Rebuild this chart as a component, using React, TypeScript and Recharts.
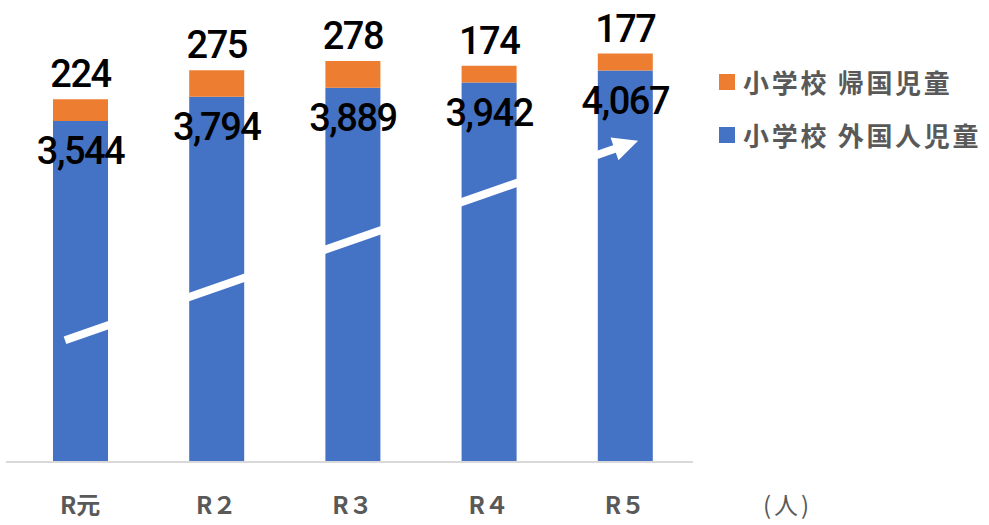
import { BarChart, Bar, XAxis, YAxis, Legend, LabelList, ReferenceLine } from 'recharts';

const categories = ['R元', 'R２', 'R３', 'R４', 'R５'];
const foreignKids = [3544, 3794, 3889, 3942, 4067];
const returneeKids = [224, 275, 278, 174, 177];

// trend arrow drawn over the bars (start / end value)
const trendStart = 1320;
const trendEnd = 3290;

const data = categories.map((name, i) => ({
  name,
  foreign: foreignKids[i],
  returnee: returneeKids[i],
}));

const BLUE = '#4472C4';
const ORANGE = '#ED7D31';
const GRAY = '#595959';
const numFont = 'Roboto, "Liberation Sans", Arial, sans-serif';
const jpFont = '"Noto Sans CJK JP", sans-serif';

const TopLabel = (props: any) => {
  const { x, y, width, value } = props;
  return (
    <text x={x + width / 2} y={y - 12} textAnchor="middle" fontFamily={numFont} fontWeight={500} fontSize={38} letterSpacing={-1.5} fill="#000">
      {value}
    </text>
  );
};

const InnerLabel = (props: any) => {
  const { x, y, width, value } = props;
  return (
    <text x={x + width / 2} y={y + 43} textAnchor="middle" fontFamily={numFont} fontWeight={500} fontSize={38} letterSpacing={-1.5} fill="#000">
      {Number(value).toLocaleString('en-US')}
    </text>
  );
};

const Tick = (props: any) => {
  const { x, payload } = props;
  return (
    <text x={x} y={514} textAnchor="middle" fontFamily={jpFont} fontWeight="bold" fontSize={24} fill={GRAY}>
      {payload.value}
    </text>
  );
};

const Arrow = (props: any) => {
  const { x1, y1, x2, y2 } = props;
  const len = Math.hypot(x2 - x1, y2 - y1);
  const ux = (x2 - x1) / len;
  const uy = (y2 - y1) / len;
  const sx = x1 - ux * 16;
  const sy = y1 - uy * 16;
  const tx = x2 + ux * 14;
  const ty = y2 + uy * 14;
  const bx = tx - ux * 25;
  const by = ty - uy * 25;
  const px = -uy;
  const py = ux;
  return (
    <g>
      <line x1={sx} y1={sy} x2={bx + ux * 2} y2={by + uy * 2} stroke="#fff" strokeWidth={8} />
      <polygon
        points={`${tx},${ty} ${bx + px * 12},${by + py * 12} ${bx - px * 12},${by - py * 12}`}
        fill="#fff"
      />
    </g>
  );
};

const LegendBox = () => (
  <div style={{ fontFamily: jpFont, fontWeight: 'bold', fontSize: 26, color: GRAY, letterSpacing: 2.7 }}>
    {[
      { color: ORANGE, text: '小学校 帰国児童' },
      { color: BLUE, text: '小学校 外国人児童' },
    ].map((r) => (
      <div key={r.text} style={{ display: 'flex', alignItems: 'center', height: 53, whiteSpace: 'nowrap' }}>
        <span style={{ display: 'inline-block', width: 16, height: 16, background: r.color, marginRight: 8 }} />
        <span>{r.text}</span>
      </div>
    ))}
  </div>
);

const App = () => (
  <div style={{ position: 'absolute', left: 0, top: 0, width: 989, height: 525, background: '#fff' }}>
    <BarChart width={989} height={525} data={data} margin={{ top: 0, right: 296, left: 6, bottom: 0 }}>
      <XAxis
        dataKey="name"
        height={63}
        axisLine={{ stroke: '#d9d9d9', strokeWidth: 2 }}
        tickLine={false}
        tick={<Tick />}
        padding={{ left: 6, right: 0 }}
      />
      <YAxis hide domain={[0, 4800]} />
      <Legend
        layout="horizontal"
        verticalAlign="middle"
        align="center"
        content={<LegendBox />}
        wrapperStyle={{ position: 'absolute', left: 719, top: 55, width: 270 }}
      />
      <Bar dataKey="foreign" stackId="a" fill={BLUE} barSize={55} isAnimationActive={false}>
        <LabelList dataKey="foreign" content={<InnerLabel />} />
      </Bar>
      <Bar dataKey="returnee" stackId="a" fill={ORANGE} barSize={55} isAnimationActive={false}>
        <LabelList dataKey="returnee" content={<TopLabel />} />
      </Bar>
      <ReferenceLine
        segment={[
          { x: 'R元', y: trendStart },
          { x: 'R５', y: trendEnd },
        ]}
        ifOverflow="visible"
        shape={<Arrow />}
      />
    </BarChart>
    <div
      style={{
        position: 'absolute',
        left: 763,
        top: 486,
        fontFamily: jpFont,
        fontSize: 24,
        color: GRAY,
        letterSpacing: 3,
      }}
    >
      (人)
    </div>
  </div>
);

export default App;
